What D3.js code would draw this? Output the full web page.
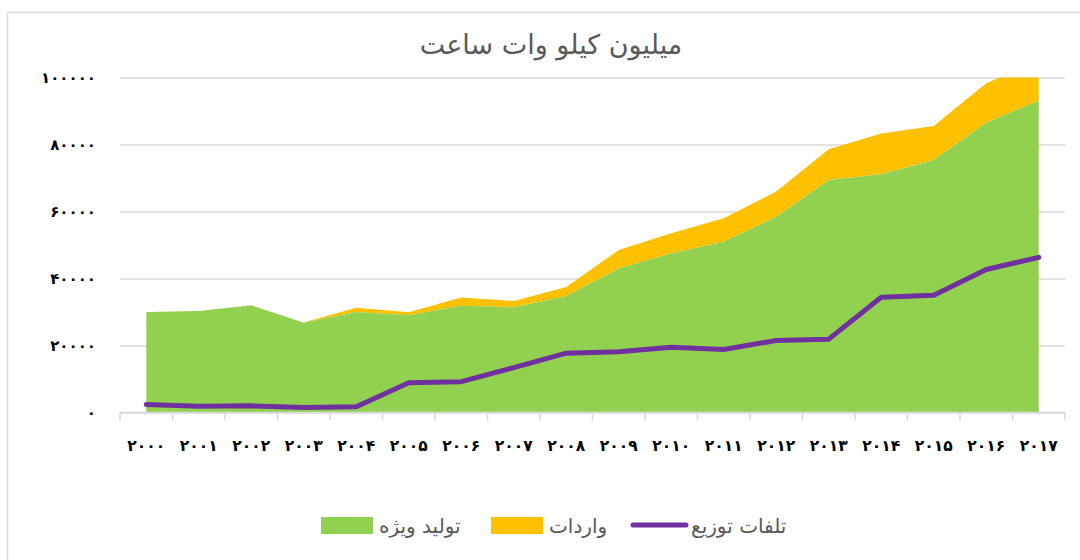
<!DOCTYPE html>
<html>
<head>
<meta charset="utf-8">
<script src="https://cdn.jsdelivr.net/npm/d3@7"></script>
<style>
  html, body { margin: 0; padding: 0; background: #fff; }
  svg { display: block; }
  text { font-family: "DejaVu Sans", sans-serif; }
</style>
</head>
<body>
<svg id="chart" width="1080" height="560"></svg>
<script>
// ---- data ----
const years = ["2000","2001","2002","2003","2004","2005","2006","2007","2008","2009","2010","2011","2012","2013","2014","2015","2016","2017"];
const production = [30000, 30300, 32000, 26800, 30000, 29000, 31900, 31400, 34800, 43000, 47500, 51000, 58400, 69400, 71100, 75400, 86500, 93100];
const imports = [0, 0, 0, 100, 1300, 900, 2400, 1900, 2700, 5500, 6000, 7000, 7600, 9200, 12200, 10100, 11800, 12000];
const losses = [2400, 1900, 2000, 1500, 1700, 8900, 9200, 13400, 17700, 18100, 19500, 18800, 21500, 21900, 34400, 35000, 42700, 46300];
const yTicks = [0, 20000, 40000, 60000, 80000, 100000];
const title = "میلیون کیلو وات ساعت";
const seriesNames = ["تولید ویژه", "واردات", "تلفات توزیع"];

// ---- helpers ----
const faDigits = "۰۱۲۳۴۵۶۷۸۹";
const toFa = s => String(s).replace(/[0-9]/g, d => faDigits[+d]);

const svg = d3.select("#chart");
const pLeft = 120, pRight = 1065, pTop = 77.5, pBottom = 412.5;

const x = d3.scaleBand().domain(years).range([pLeft, pRight]);
const y = d3.scaleLinear().domain([0, 100000]).range([pBottom, pTop]);
const cx = d => x(d) + x.bandwidth() / 2;

// outer border
svg.append("rect").attr("x", 7.5).attr("y", 12.5).attr("width", 1090).attr("height", 560)
  .attr("fill", "none").attr("stroke", "#d9d9d9").attr("stroke-width", 1.5);

// title
svg.append("text").attr("x", 551).attr("y", 54).attr("text-anchor", "middle")
  .attr("font-size", 27).attr("fill", "#595959").text(title);

// gridlines + y labels
const yAxis = svg.append("g").attr("transform", `translate(${pLeft},0)`)
  .call(d3.axisLeft(y).tickValues(yTicks).tickSize(-(pRight - pLeft)).tickPadding(24).tickFormat(toFa));
yAxis.select(".domain").remove();
yAxis.selectAll(".tick line").attr("stroke", "#d9d9d9").attr("stroke-width", 1.5);
yAxis.selectAll(".tick text").attr("font-size", 15).attr("font-weight", "bold").attr("fill", "#000")
  .style("font-family", "'DejaVu Sans', sans-serif");

// data rows
const rows = years.map((yr, i) => ({ yr, p: production[i], im: imports[i], l: losses[i] }));

// clip
svg.append("clipPath").attr("id", "plotclip").append("rect")
  .attr("x", pLeft).attr("y", pTop).attr("width", pRight - pLeft).attr("height", pBottom - pTop);

const g = svg.append("g").attr("clip-path", "url(#plotclip)");

// imports (stacked on production)
g.append("path").datum(rows)
  .attr("fill", "#ffc000")
  .attr("d", d3.area().x(d => cx(d.yr)).y0(d => y(d.p)).y1(d => y(d.p + d.im)));

// production
g.append("path").datum(rows)
  .attr("fill", "#92d050")
  .attr("d", d3.area().x(d => cx(d.yr)).y0(y(0)).y1(d => y(d.p)));

// x axis baseline + boundary ticks
svg.append("line").attr("x1", pLeft).attr("x2", pRight).attr("y1", pBottom).attr("y2", pBottom)
  .attr("stroke", "#d9d9d9").attr("stroke-width", 1.5);
const bounds = years.map(d => x(d)).concat([pRight]);
svg.append("g").selectAll("line").data(bounds).join("line")
  .attr("x1", d => d).attr("x2", d => d).attr("y1", pBottom).attr("y2", pBottom + 8)
  .attr("stroke", "#d9d9d9").attr("stroke-width", 1.5);

// losses line
svg.append("path").datum(rows)
  .attr("fill", "none").attr("stroke", "#7030a0").attr("stroke-width", 5)
  .attr("stroke-linejoin", "round").attr("stroke-linecap", "round")
  .attr("d", d3.line().x(d => cx(d.yr)).y(d => y(d.l)));

// x labels
svg.append("g").selectAll("text").data(years).join("text")
  .attr("x", d => cx(d)).attr("y", 446).attr("dy", "0.35em").attr("text-anchor", "middle")
  .attr("font-size", 15.5).attr("font-weight", "bold").attr("fill", "#000")
  .text(toFa);

// legend
const lg = svg.append("g");
lg.append("rect").attr("x", 321).attr("y", 517).attr("width", 52).attr("height", 17).attr("fill", "#92d050");
lg.append("text").attr("x", 379).attr("y", 533).attr("font-size", 20).attr("fill", "#595959").text(seriesNames[0]);
lg.append("rect").attr("x", 491).attr("y", 517).attr("width", 52).attr("height", 17).attr("fill", "#ffc000");
lg.append("text").attr("x", 549).attr("y", 533).attr("font-size", 20).attr("fill", "#595959").text(seriesNames[1]);
lg.append("line").attr("x1", 633).attr("x2", 686).attr("y1", 525).attr("y2", 525)
  .attr("stroke", "#7030a0").attr("stroke-width", 5).attr("stroke-linecap", "round");
lg.append("text").attr("x", 691).attr("y", 533).attr("font-size", 20).attr("fill", "#595959").text(seriesNames[2]);
</script>
</body>
</html>
